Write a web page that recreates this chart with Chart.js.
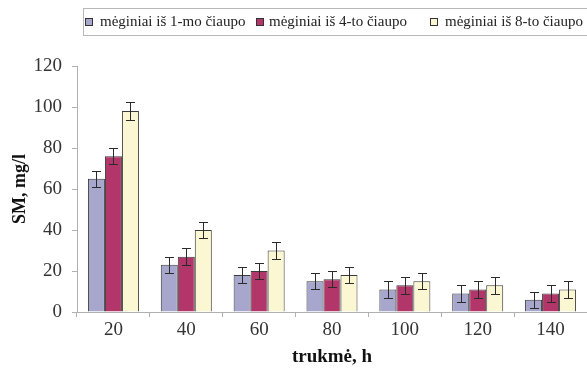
<!DOCTYPE html>
<html><head><meta charset="utf-8">
<script src="https://cdn.jsdelivr.net/npm/chart.js@4.4.0/dist/chart.umd.min.js"></script>
<style>html,body{margin:0;padding:0;background:#fff}#w{width:587px;height:370px}</style>
</head><body><div id="w"><canvas id="c" width="587" height="370"></canvas></div>
<script>
const categories = ['20','40','60','80','100','120','140'];
const series1 = [65, 23, 18, 15, 11, 9, 6];
const series2 = [76, 27, 20, 16, 13, 11, 9];
const series3 = [98, 40, 30, 18, 15, 13, 11];
const err1 = [4, 4, 4, 4, 4, 4, 4];
const err2 = [4, 4, 4, 4, 4, 4, 4];
const err3 = [4.5, 4, 4, 4, 4, 4, 4];
const seriesNames = ['mėginiai iš 1-mo čiaupo','mėginiai iš 4-to čiaupo','mėginiai iš 8-to čiaupo'];
const yTicks = [0,20,40,60,80,100,120];

const SERIF = '"Liberation Serif", "DejaVu Serif", serif';

const errorBars = {
  id:'errorBars',
  afterDatasetsDraw(chart){
    const ctx = chart.ctx, y = chart.scales.y;
    chart.data.datasets.forEach((ds,i)=>{
      const meta = chart.getDatasetMeta(i);
      meta.data.forEach((bar,j)=>{
        const v = ds.data[j], e = ds.errors[j];
        const yt = Math.round(y.getPixelForValue(v+e))+0.5, yb = Math.round(y.getPixelForValue(v-e))+0.5;
        const x = Math.round(bar.x)+0.5;
        ctx.save();
        ctx.strokeStyle='#2a2a2a'; ctx.lineWidth=1;
        ctx.beginPath();
        ctx.moveTo(x,yt); ctx.lineTo(x,yb);
        ctx.moveTo(x-4.5,yt); ctx.lineTo(x+4.5,yt);
        ctx.moveTo(x-4.5,yb); ctx.lineTo(x+4.5,yb);
        ctx.stroke();
        ctx.restore();
      });
    });
  }
};

const boxLegend = {
  id:'boxLegend',
  afterDraw(chart){
    const ctx = chart.ctx;
    ctx.save();
    ctx.strokeStyle='#b8b8b8'; ctx.lineWidth=1;
    ctx.strokeRect(83.5,8.5,520,27);
    const mx=[85,256,430];
    const tx=[100,269,445];
    const f = Chart.helpers.toFont({family:SERIF,size:15});
    chart.data.datasets.forEach((ds,i)=>{
      ctx.fillStyle=ds.backgroundColor;
      ctx.fillRect(mx[i]+0.5,18.5,7,7);
      ctx.strokeStyle='#333'; ctx.strokeRect(mx[i]+0.5,18.5,7,7);
      Chart.helpers.renderText(ctx, seriesNames[i], tx[i], 22, f, {color:'#222', textAlign:'left', textBaseline:'middle'});
    });
    ctx.restore();
  }
};

new Chart(document.getElementById('c'),{
  type:'bar',
  data:{
    labels:categories,
    datasets:[
      {label:seriesNames[0],data:series1,errors:err1,backgroundColor:'#a7a7cd',borderColor:'#3a3a3a',borderWidth:1},
      {label:seriesNames[1],data:series2,errors:err2,backgroundColor:'#b3366b',borderColor:'#3a3a3a',borderWidth:1},
      {label:seriesNames[2],data:series3,errors:err3,backgroundColor:'#fbf7d2',borderColor:'#3a3a3a',borderWidth:1}
    ]
  },
  options:{
    responsive:false,animation:false,
    layout:{padding:{top:66,left:0,right:0,bottom:0}},
    plugins:{legend:{display:false},tooltip:{enabled:false}},
    datasets:{bar:{categoryPercentage:0.7,barPercentage:1.0}},
    scales:{
      x:{
        grid:{display:true,drawOnChartArea:false,drawTicks:true,tickLength:5,color:'#b0b0b0',offset:true},
        border:{color:'#b0b0b0'},
        ticks:{font:{family:SERIF,size:19},color:'#333',padding:2},
        title:{display:true,text:'trukmė, h',font:{family:SERIF,size:19,weight:'bold'},color:'#111',padding:{top:4,bottom:2}},
        afterFit(s){s.height=58;}
      },
      y:{
        min:0,max:120,
        afterBuildTicks(s){s.ticks=yTicks.map(v=>({value:v}));},
        grid:{display:true,drawOnChartArea:false,drawTicks:true,tickLength:5,color:'#b0b0b0'},
        border:{color:'#b0b0b0'},
        ticks:{font:{family:SERIF,size:19},color:'#333',padding:10},
        title:{display:true,text:'SM, mg/l',font:{family:SERIF,size:18,weight:'bold'},color:'#111',padding:{top:10,bottom:0}},
        afterFit(s){s.width=77;}
      }
    }
  },
  plugins:[errorBars,boxLegend]
});
</script></body></html>
